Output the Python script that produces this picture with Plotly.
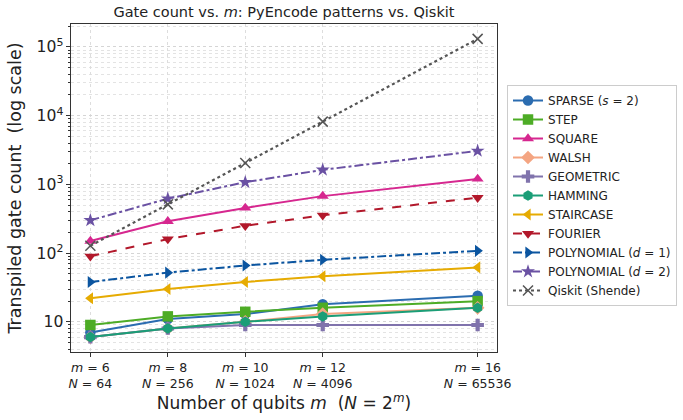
import plotly.graph_objects as go

m_vals = [6, 8, 10, 12, 16]
tick_text = ["<i>m</i> = 6<br><i>N</i> = 64", "<i>m</i> = 8<br><i>N</i> = 256",
             "<i>m</i> = 10<br><i>N</i> = 1024", "<i>m</i> = 12<br><i>N</i> = 4096",
             "<i>m</i> = 16<br><i>N</i> = 65536"]

sparse = [7, 11, 13, 18, 24]
step = [9, 12, 14, 16, 20]
square = [150, 290, 455, 675, 1200]
walsh = [6, 8, 10, 13, 16]
geometric = [6, 8, 9, 9, 9]
hamming = [6, 8, 10, 12, 16]
staircase = [22, 30, 38, 46, 62]
fourier = [90, 160, 250, 355, 640]
poly1 = [38, 52, 66, 80, 108]
poly2 = [300, 620, 1075, 1630, 3070]
qiskit = [128, 512, 2048, 8192, 131072]

series = [
    ("SPARSE (<i>s</i> = 2)", sparse, "#2b6cb0", "circle", "solid"),
    ("STEP", step, "#4dac26", "square", "solid"),
    ("SQUARE", square, "#d6278f", "triangle-up", "solid"),
    ("WALSH", walsh, "#f4a582", "diamond", "solid"),
    ("GEOMETRIC", geometric, "#8073ac", "cross", "solid"),
    ("HAMMING", hamming, "#1b9e77", "hexagon", "solid"),
    ("STAIRCASE", staircase, "#e6ab02", "triangle-left", "solid"),
    ("FOURIER", fourier, "#b2182b", "triangle-down", "dash"),
    ("POLYNOMIAL (<i>d</i> = 1)", poly1, "#0b55a0", "triangle-right", "dashdot"),
    ("POLYNOMIAL (<i>d</i> = 2)", poly2, "#6a51a3", "star", "dashdot"),
]

fig = go.Figure()
for name, vals, color, sym, dash in series:
    fig.add_trace(go.Scatter(
        x=m_vals, y=vals, name=name, mode="lines+markers",
        line=dict(color=color, width=2, dash=dash),
        marker=dict(symbol=sym, size=10.5, color=color, line=dict(width=0)),
    ))

fig.add_trace(go.Scatter(
    x=m_vals, y=qiskit, name="Qiskit (Shende)", mode="lines+markers",
    line=dict(color="#555555", width=2.2, dash="dot"),
    marker=dict(symbol="x-thin-open", size=10, color="#555555",
                line=dict(width=1.5, color="#555555")),
))

fig.update_layout(
    width=683, height=420,
    margin=dict(l=71, r=186, t=24, b=68, autoexpand=False),
    paper_bgcolor="white", plot_bgcolor="white",
    font=dict(family="DejaVu Sans", size=12, color="#222222"),
    title=dict(text="Gate count vs. <i>m</i>: PyEncode patterns vs. Qiskit",
               x=(71 + 497) / 2 / 683, xanchor="center", y=0.972, yanchor="middle",
               font=dict(size=14.5, color="#222222")),
    legend=dict(x=1.0235, xanchor="left", y=0.814, yanchor="top",
                bgcolor="white", bordercolor="#cccccc", borderwidth=1,
                font=dict(size=12, color="#222222"), tracegroupgap=0),
    showlegend=True,
)

fig.update_xaxes(
    range=[5.5, 16.5], tickvals=m_vals, ticktext=tick_text,
    showline=True, linecolor="#333333", linewidth=1.2, mirror=True,
    ticks="outside", ticklen=4, tickcolor="#333333",
    showgrid=True, gridcolor="#dddddd", griddash="dot", gridwidth=1,
    zeroline=False, tickfont=dict(size=12.5), automargin=False,
    title=dict(text="Number of qubits <i>m</i>  (<i>N</i> = 2<sup><i>m</i></sup>)",
               font=dict(size=17), standoff=6),
)

fig.update_yaxes(
    type="log", range=[0.561, 5.334], dtick=1, exponentformat="power",
    showline=True, linecolor="#333333", linewidth=1.2, mirror=True,
    ticks="outside", ticklen=4, tickcolor="#333333",
    showgrid=True, gridcolor="#d5d5d5", griddash="dot", gridwidth=1,
    minor=dict(dtick="D1", ticks="outside", ticklen=2, tickcolor="#333333",
               showgrid=True, gridcolor="#e3e3e3", griddash="dot", gridwidth=1),
    zeroline=False, tickfont=dict(size=12.5), automargin=False,
    title=dict(text="Transpiled gate count  (log scale)", font=dict(size=17.5), standoff=10),
)

fig.write_html("out.html", config={"displayModeBar": False},
               post_script="document.body.style.margin='0';")
